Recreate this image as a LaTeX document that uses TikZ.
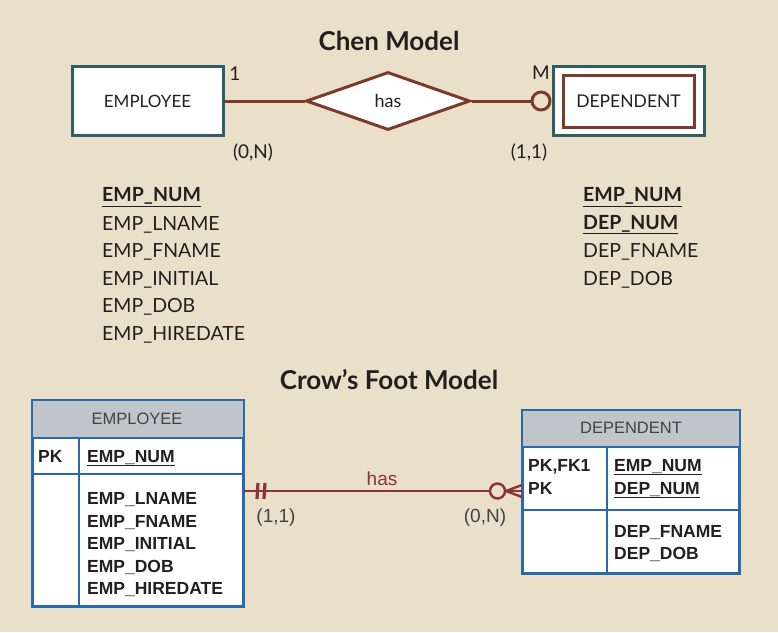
\documentclass[tikz,border=0pt]{standalone}
\usepackage{fontspec}
\setmainfont{Lato}
\newfontfamily\arialf{Liberation Sans}
\usetikzlibrary{shapes.geometric}
\definecolor{bg}{RGB}{234,223,200}
\definecolor{teal}{RGB}{46,94,96}
\definecolor{brn}{RGB}{122,58,44}
\definecolor{crow}{RGB}{140,52,52}
\definecolor{tblue}{RGB}{40,105,175}
\definecolor{hgray}{RGB}{192,197,201}
\definecolor{txt}{RGB}{35,31,32}
\tikzset{
  fs/.style={font=\fontsize{#1}{#1}\selectfont},
  chenent/.style={draw=teal, line width=3pt, fill=white, rectangle, inner sep=0pt, minimum width=151pt, minimum height=69pt, text=txt, fs=17},
  chenrel/.style={draw=brn, line width=3pt, fill=white, diamond, inner sep=0pt, minimum width=164pt, minimum height=58pt, text=txt, fs=18},
  chenline/.style={draw=brn, line width=3pt},
  lbl/.style={text=txt, fs=19, inner sep=0pt},
  attr/.style={text=txt, fs=19.5, anchor=west, inner sep=0pt},
  title/.style={text=txt, font=\bfseries\fontsize{26}{26}\selectfont, inner sep=0pt},
  tbl/.style={draw=tblue, line width=2.2pt, fill=white, rectangle, inner sep=0pt},
  tline/.style={draw=tblue, line width=2.2pt},
  hdr/.style={text=txt!85, font=\arialf\fontsize{16.5}{16.5}\selectfont, inner sep=0pt},
  tattr/.style={text=txt, font=\arialf\bfseries\fontsize{17.5}{17.5}\selectfont, anchor=base west, inner sep=0pt},
  cline/.style={draw=crow, line width=2.8pt},
  clbl/.style={text=txt!85, font=\arialf\fontsize{19}{19}\selectfont, inner sep=0pt},
}
\begin{document}
\begin{tikzpicture}[x=1pt,y=-1pt]
\fill[bg] (0,0) rectangle (778,632);
\useasboundingbox (0,0) rectangle (778,632);

% ---------- Chen model ----------
\node[title] (t1) at (389,41) {Chen Model};
\node[chenent] (emp) at (147.5,101) {EMPLOYEE};
\node[chenrel] (has) at (388,101) {has};
\node[draw=teal, line width=3pt, fill=white, rectangle, inner sep=0pt, minimum width=151pt, minimum height=69pt] (depo) at (628.5,101) {};
\node[draw=brn, line width=3pt, rectangle, inner sep=0pt, minimum width=131pt, minimum height=52pt, text=txt, fs=17.5] (dep) at (628.5,101.5) {DEPENDENT};
\node[circle, draw=brn, line width=3pt, fill=bg, minimum size=18pt, inner sep=0pt] (circ) at (541,101) {};
\draw[chenline] (emp.east) -- (has.west);
\draw[chenline] (has.east) -- (circ.west);
\node[lbl] (one) at (235,74) {1};
\node[lbl] (mm) at (541,73) {M};
\node[lbl] (c0n) at (253,153) {(0,N)};
\node[lbl] (c11) at (529,153) {(1,1)};

\node[attr] (a1) at (102,197) {\bfseries\underline{EMP\_NUM}};
\node[attr] (a2) at (102,224.5) {EMP\_LNAME};
\node[attr] (a3) at (102,252) {EMP\_FNAME};
\node[attr] (a4) at (102,279.5) {EMP\_INITIAL};
\node[attr] (a5) at (102,307) {EMP\_DOB};
\node[attr] (a6) at (102,334.5) {EMP\_HIREDATE};
\node[attr] (b1) at (583,197) {\bfseries\underline{EMP\_NUM}};
\node[attr] (b2) at (583,224.5) {\bfseries\underline{DEP\_NUM}};
\node[attr] (b3) at (583,252) {DEP\_FNAME};
\node[attr] (b4) at (583,279.5) {DEP\_DOB};

% ---------- Crow's foot model ----------
\node[title] (t2) at (389,380) {Crow’s Foot Model};

% EMPLOYEE table
\node[tbl, minimum width=210pt, minimum height=205pt] (et) at (138,503.5) {};
\fill[hgray] (33,401) rectangle (243,438);
\draw[tline] (33,438) -- (243,438);
\draw[tline] (33,474) -- (243,474);
\draw[tline] (79,438) -- (79,606);
\draw[tline] (et.north west) rectangle (et.south east);
\node[hdr] (eh) at (137,419) {EMPLOYEE};
\node[tattr] (epk) at (38,462) {PK};
\node[tattr] (e1) at (87,462) {\underline{EMP\_NUM}};
\node[tattr] (e2) at (87,504.5) {EMP\_LNAME};
\node[tattr] (e3) at (87,527) {EMP\_FNAME};
\node[tattr] (e4) at (87,549.5) {EMP\_INITIAL};
\node[tattr] (e5) at (87,572) {EMP\_DOB};
\node[tattr] (e6) at (87,594) {EMP\_HIREDATE};

% DEPENDENT table
\node[tbl, minimum width=216pt, minimum height=162pt] (dt) at (631,492) {};
\fill[hgray] (523,411) rectangle (739,447);
\draw[tline] (523,447) -- (739,447);
\draw[tline] (523,510) -- (739,510);
\draw[tline] (607,447) -- (607,573);
\draw[tline] (dt.north west) rectangle (dt.south east);
\node[hdr] (dh) at (631,428) {DEPENDENT};
\node[tattr] (dpk1) at (528,471) {PK,FK1};
\node[tattr] (dpk2) at (528,494) {PK};
\node[tattr] (d1) at (614,471) {\underline{EMP\_NUM}};
\node[tattr] (d2) at (614,494) {\underline{DEP\_NUM}};
\node[tattr] (d3) at (614,537) {DEP\_FNAME};
\node[tattr] (d4) at (614,559) {DEP\_DOB};

% relationship
\coordinate (ea) at (et.east |- 0,491);
\coordinate (da) at (dt.west |- 0,491);
\node[circle, draw=crow, line width=2.4pt, fill=bg, minimum size=15pt, inner sep=0pt] (cc) at (497.5,491) {};
\draw[cline] (ea) -- (cc.west);
\draw[cline, line width=3.2pt] (258,483) -- (257,499);
\draw[cline, line width=3.2pt] (265,483) -- (264,499);
\coordinate (cf) at (506,491);
\draw[cline] (cc.east) -- (da);
\draw[cline, line width=2.4pt] (cf) -- (522,485);
\draw[cline, line width=2.4pt] (cf) -- (522,497);
\node[clbl, text=crow] (hl) at (382,479) {has};
\node[clbl] (l11) at (276,518) {(1,1)};
\node[clbl] (l0n) at (485,518) {(0,N)};
\end{tikzpicture}
\end{document}
